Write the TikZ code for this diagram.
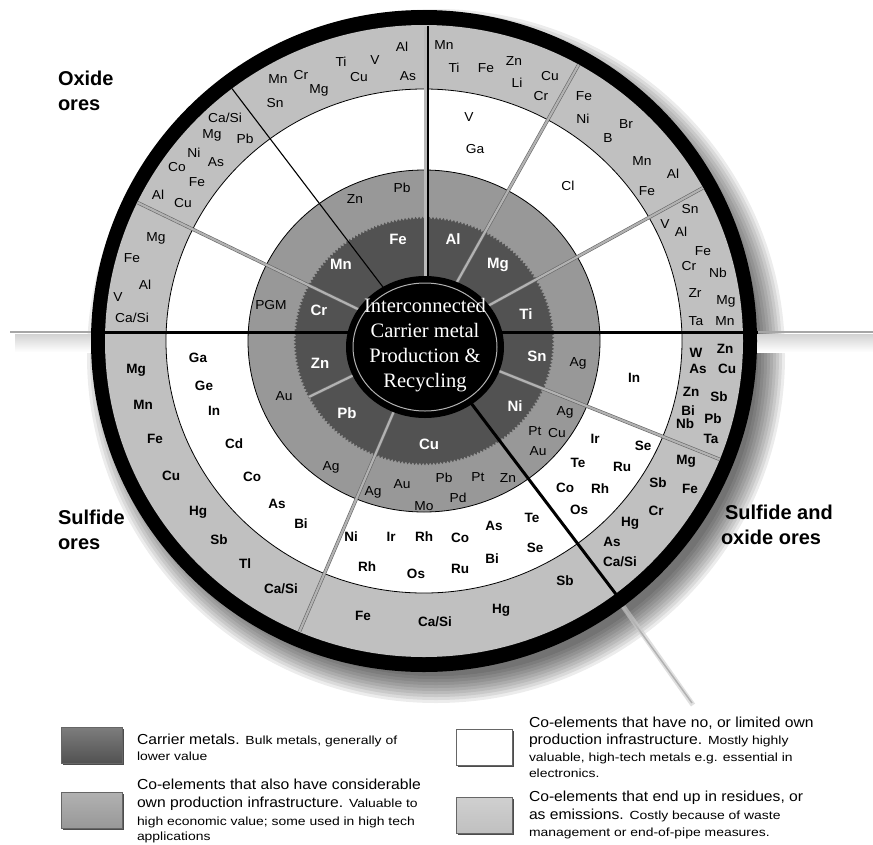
\documentclass[tikz,border=0pt]{standalone}
\usepackage{fontspec}
\setmainfont{Liberation Sans}
\newfontfamily\serifc{Liberation Serif}
\newfontfamily\widef[FakeStretch=1.18]{Liberation Sans}
\newfontfamily\primf[FakeStretch=1.08]{Liberation Sans}
\newfontfamily\upf[FakeStretch=1.06]{Liberation Sans}
\usetikzlibrary{decorations.pathmorphing}
\definecolor{carrier}{RGB}{82,82,82}
\definecolor{midg}{RGB}{152,152,152}
\definecolor{lightg}{RGB}{192,192,192}
\newcommand\LgP{\primf\fontsize{14.5}{16}\selectfont}
\newcommand\LgS{\widef\fontsize{11.8}{13}\selectfont}
\begin{document}
\begin{tikzpicture}[x=1pt,y=-1pt,
  every node/.style={inner sep=0pt, outer sep=0pt},
  up/.style={font=\upf\fontsize{13}{14}\selectfont},
  lob/.style={font=\bfseries\fontsize{13.5}{14}\selectfont},
  lor/.style={font=\upf\fontsize{13}{14}\selectfont},
  car/.style={font=\bfseries\fontsize{15}{16}\selectfont, text=white},
  ore/.style={font=\bfseries\fontsize{20}{25}\selectfont, align=left, anchor=west},
  graysep/.style={draw=black!60, double=gray!60, double distance=2.2pt, line width=0.6pt},
  thinsep/.style={draw=black, line width=1.1pt},
  boldsep/.style={draw=black, line width=3pt},
  ring/.style={draw=black, line width=0.8pt},
  lgline/.style={anchor=base west},
  lgshadow/.style={fill=black!70},
  lgbox/.style={draw=black!60, line width=0.5pt}
]
\useasboundingbox (0,0) rectangle (873,844);
\fill[white] (0,0) rectangle (873,844);

\coordinate (C) at (424,341);
\coordinate (D) at (425,347);

% soft shadow of the wheel (down-right)
\foreach \r in {322,325,...,349} {
  \fill[black, opacity=0.075] (436,356) ellipse [x radius=\r, y radius=\r-2];
}

% horizontal extensions and spray
\shade[top color=gray!35, bottom color=white] (15,334) rectangle (95,352);
\shade[top color=gray!35, bottom color=white] (755,334) rectangle (873,352);
\draw[gray!70, line width=1.5pt] (10,332) -- (95,332);
\draw[gray!70, line width=1.5pt] (755,332) -- (873,332);
\draw[gray!40, line width=5pt, opacity=0.6] (620,602) -- (693,705);
\draw[gray!60, line width=1.5pt] (622,606) -- (692,703);

% rings
\fill[black] (C) ellipse [x radius=333, y radius=331];
\fill[lightg] (C) ellipse [x radius=319, y radius=316];
\fill[white] (C) ellipse [x radius=258, y radius=252];
\draw[ring] (C) ellipse [x radius=258, y radius=252];
\fill[midg] (C) ellipse [x radius=176, y radius=171];
\draw[ring] (C) ellipse [x radius=176, y radius=171];
\fill[carrier, decorate, decoration={zigzag, segment length=3.5pt, amplitude=1.3pt}] (C) ellipse [x radius=129, y radius=123];

% radial separators
\draw[thinsep] (C) -- ++(-127:319 and 316);
\draw[graysep] (C) -- ++(-154:319 and 316);
\fill[gray!55] (423.5,27) rectangle (427.5,341);
\draw[thinsep] (428,26) -- (428,341);
\draw[graysep] (C) -- ++(-61:319 and 316);
\draw[graysep] (C) -- ++(-29:319 and 316);
\draw[graysep] (C) -- ++(22:319 and 316);
\draw[boldsep] (C) -- ++(53:333 and 331);
\draw[graysep] (C) -- ++(113:319 and 316);
\draw[graysep] (C) -- ++(153:129 and 123);
\draw[boldsep] (92,332) -- (758,332);

% central disk
\fill[black] (D) ellipse [x radius=79, y radius=71];
\draw[gray!60, line width=1pt] (D) ellipse [x radius=72, y radius=64];
\node[font=\serifc\fontsize{20.5}{25}\selectfont, text=white, align=center] (ctr) at (425,345)
  {Interconnected\\Carrier metal\\Production \&\\Recycling};

% upper labels (oxide ores)
\foreach \t/\x/\y [count=\i] in {
  Mn/278/79, Cr/301/75, Mg/319/90, Sn/275/103, Ti/341/62, V/375/60, Cu/359/77, Al/402/47, As/408/76,
  {Ca/Si}/225/118, Mg/212/135, Pb/245/139, Ni/194/153, As/216/162, Co/177/167, Fe/197/182, Al/158/195, Cu/183/203,
  Mg/156/238, Fe/132/258, Al/145/285, V/118/297, {Ca/Si}/132/318,
  Mn/444/45, Ti/454/68, Fe/486/68, Zn/514/61, Li/517/83, Cu/550/76, Cr/541/96,
  V/469/117, Ga/475/149,
  Fe/584/96, Ni/583/119, Br/626/124, B/608/138, Mn/642/161, Al/673/174, Fe/647/191,
  Cl/568/186,
  Sn/690/209, V/665/224, Al/681/232, Fe/703/251, Cr/689/266, Nb/718/273, Zr/695/293, Mg/726/301, Ta/696/321, Mn/725/321,
  Zn/355/199, Pb/402/188, PGM/271/305}
  \node[up] (u\i) at (\x,\y) {\t};

% carrier metals
\foreach \t/\x/\y [count=\i] in {
  Fe/398/239, Al/453/239, Mn/341/264, Mg/498/265, Cr/319/310, Ti/526/314,
  Zn/320/363, Sn/537/356, Pb/347/413, Ni/515/406, Cu/429/444}
  \node[car] (c\i) at (\x,\y) {\t};

% lower regular labels
\foreach \t/\x/\y [count=\i] in {
  Ag/578/363, Ag/565/412, Pt/535/431, Cu/557/433, Au/538/451,
  Ag/373/492, Au/402/484, Pb/444/478, Pt/478/477, Zn/508/478, Mo/424/506, Pd/458/498,
  Au/284/396, Ag/331/467}
  \node[lor] (r\i) at (\x,\y) {\t};

% lower bold labels
\foreach \t/\x/\y [count=\i] in {
  In/634/378, W/696/353, Zn/725/349, As/698/369, Cu/727/369, Zn/691/392, Sb/719/397, Bi/688/411, Pb/713/419, Nb/685/424, Ta/711/439,
  Ir/595/439, Se/643/446, Te/578/463, Ru/622/467, Co/565/488, Rh/600/489, Os/579/510,
  Mg/686/461, Sb/658/483, Fe/690/489, Cr/656/511, Hg/630/523, As/612/542, {Ca/Si}/620/562,
  Ni/351/537, Ir/391/537, Rh/424/537, Co/460/538, As/494/526, Te/532/518, Rh/367/567, Os/416/574, Ru/460/569, Bi/492/559, Se/535/548,
  Fe/363/616, {Ca/Si}/435/622, Hg/501/610, Sb/565/581,
  Ga/198/358, Ge/204/386, In/214/411, Cd/234/444, Co/252/477, As/277/504, Bi/301/524,
  Mg/136/370, Mn/143/405, Fe/155/439, Cu/171/476, Hg/198/512, Sb/219/540, Tl/245/564, {Ca/Si}/281/589}
  \node[lob] (b\i) at (\x,\y) {\t};

% ore type labels
\node[ore] (ox) at (58,91) {Oxide\\ores};
\node[ore] (su) at (58,530) {Sulfide\\ores};
\node[ore] (so) at (721,525) {\hspace*{4pt}Sulfide and\\oxide ores};

% legend boxes
\fill[lgshadow] (63,729) rectangle (124,765);
\shade[lgbox, top color=carrier!75!white, bottom color=carrier] (61,727) rectangle (122,763);
\fill[lgshadow] (63,794) rectangle (124,830);
\shade[lgbox, top color=midg!75!white, bottom color=midg] (61,792) rectangle (122,828);
\fill[lgshadow] (458,731) rectangle (514,767);
\filldraw[lgbox, fill=white] (456,729) rectangle (512,765);
\fill[lgshadow] (458,799) rectangle (514,835);
\shade[lgbox, top color=lightg!75!white, bottom color=lightg] (456,797) rectangle (512,833);

% legend texts
\node[lgline] (g1) at (137,744) {\LgP Carrier metals. \LgS Bulk metals, generally of};
\node[lgline] (g2) at (137,760) {\LgS lower value};
\node[lgline] (g3) at (137,789) {\LgP Co-elements that also have considerable};
\node[lgline] (g4) at (137,807) {\LgP own production infrastructure. \LgS Valuable to};
\node[lgline] (g5) at (137,825) {\LgS high economic value; some used in high tech};
\node[lgline] (g6) at (137,840) {\LgS applications};
\node[lgline] (h1) at (529,727) {\LgP Co-elements that have no, or limited own};
\node[lgline] (h2) at (529,744) {\LgP production infrastructure. \LgS Mostly highly};
\node[lgline] (h3) at (529,761) {\LgS valuable, high-tech metals e.g. essential in};
\node[lgline] (h4) at (529,777) {\LgS electronics.};
\node[lgline] (h5) at (529,801) {\LgP Co-elements that end up in residues, or};
\node[lgline] (h6) at (529,819) {\LgP as emissions. \LgS Costly because of waste};
\node[lgline] (h7) at (529,836) {\LgS management or end-of-pipe measures.};
\end{tikzpicture}
\end{document}
